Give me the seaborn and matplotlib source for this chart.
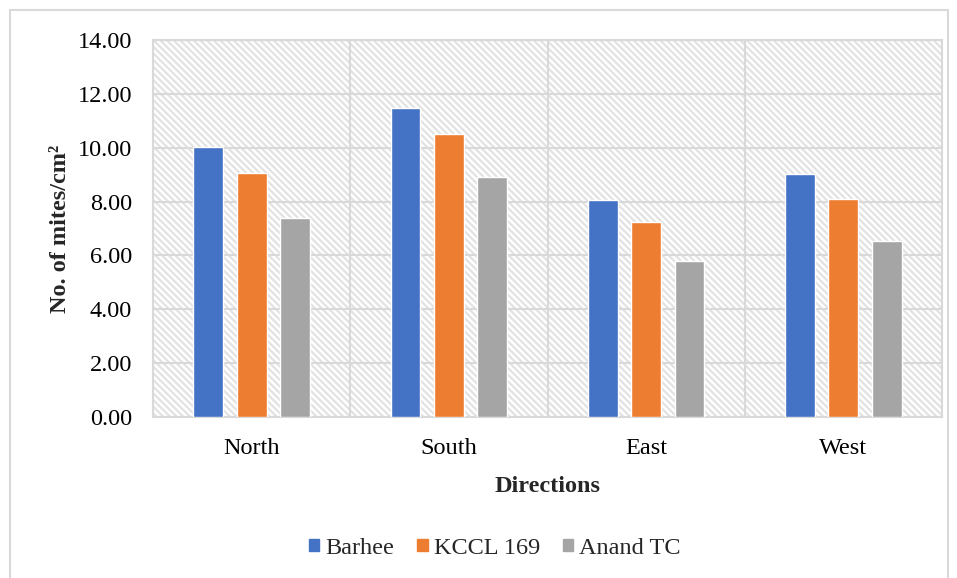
import pandas as pd
import matplotlib.pyplot as plt
import matplotlib.patches as mpatches
import seaborn as sns

directions = ["North", "South", "East", "West"]
varieties = ["Barhee", "KCCL 169", "Anand TC"]
barhee = [10.04, 11.46, 8.06, 9.01]
kccl_169 = [9.05, 10.51, 7.24, 8.09]
anand_tc = [7.39, 8.91, 5.79, 6.54]
colors = ["#4472C4", "#ED7D31", "#A5A5A5"]

data = pd.DataFrame({
    "Directions": directions * 3,
    "Variety": [v for v in varieties for _ in directions],
    "Mites": barhee + kccl_169 + anand_tc,
})

sns.set_style("white")
plt.rcParams['font.family'] = ['Liberation Serif', 'DejaVu Serif']
plt.rcParams['hatch.linewidth'] = 1.6
plt.rcParams['hatch.color'] = '#e2e2e2'

fig = plt.figure(figsize=(9.57, 5.78), dpi=100)
ax = fig.add_axes([153 / 957, 1 - 417 / 578, (942 - 153) / 957, (417 - 40) / 578])

# hatched plot background
ax.add_patch(mpatches.Rectangle((0, 0), 1, 1, transform=ax.transAxes,
                                facecolor='white', edgecolor='#e2e2e2',
                                hatch='\\\\\\\\\\', lw=0, zorder=0))

sns.barplot(data=data, x="Directions", y="Mites", hue="Variety",
            palette=colors, saturation=1, width=0.66, gap=0.31, ax=ax,
            zorder=3, legend=False)

ax.set_ylim(0, 14)
ax.set_xlim(-0.5, 3.5)
ax.set_yticks([0, 2, 4, 6, 8, 10, 12, 14])
ax.set_yticklabels([f"{v:.2f}" for v in ax.get_yticks()])
ax.yaxis.grid(True, color='#d9d9d9', lw=1.5, zorder=1)
for xv in [0.5, 1.5, 2.5]:
    ax.axvline(xv, color='#d9d9d9', lw=1.5, zorder=1)
ax.set_axisbelow(True)
for s in ax.spines.values():
    s.set_color('#d9d9d9')
    s.set_linewidth(1.5)
ax.tick_params(length=0, labelsize=17.5, colors='black')
ax.tick_params(axis='y', pad=15)
ax.tick_params(axis='x', pad=15)

ax.set_xlabel("Directions", fontsize=17.5, fontweight='bold', labelpad=12)
ax.set_ylabel("No. of mites/cm²", fontsize=17.5, fontweight='bold', labelpad=5)

handles = [mpatches.Patch(color=c, label=v) for c, v in zip(colors, varieties)]
fig.legend(handles=handles, loc='center', bbox_to_anchor=(495 / 957, 1 - 548 / 578),
           ncol=3, frameon=False, fontsize=17.5, handlelength=0.42, handleheight=0.42,
           handletextpad=0.25, columnspacing=0.95)

# outer chart border
fig.patches.append(mpatches.Rectangle((10 / 957, -0.01), 938 / 957, 1 - 10 / 578 + 0.01,
                                      transform=fig.transFigure, fill=False,
                                      edgecolor='#d9d9d9', lw=1.5))

fig.savefig("out.png", dpi=100)
